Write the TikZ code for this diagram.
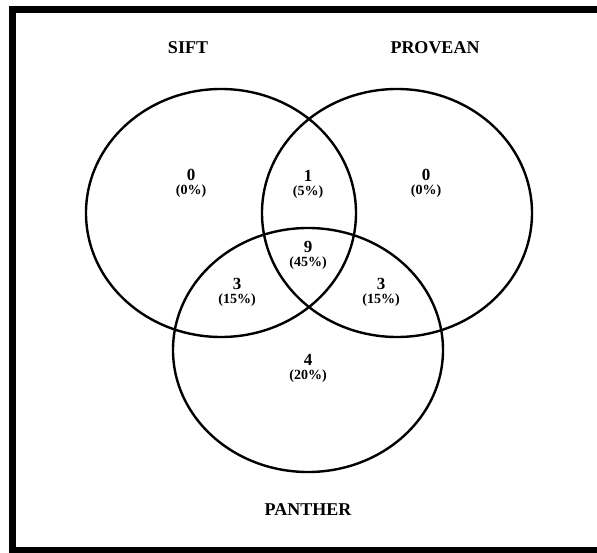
\documentclass[tikz,border=0pt]{standalone}
\usepackage{fontspec}
\setmainfont{Liberation Serif}
\usetikzlibrary{positioning,shapes.geometric}

\begin{document}
\begin{tikzpicture}[x=1pt,y=-1pt,
      set/.style={draw,ellipse,line width=2.4pt,minimum width=270pt,minimum height=248pt,inner sep=0pt},
      setname/.style={font=\fontsize{18}{18}\selectfont\bfseries,inner sep=0pt},
      num/.style={font=\fontsize{17}{17}\selectfont\bfseries,inner sep=0pt},
      pct/.style={font=\fontsize{14}{14}\selectfont\bfseries,inner sep=0pt,below=3.5pt of #1}]
    \useasboundingbox (0,0) rectangle (597,553);
    \draw[line width=7pt] (12.5,9.5) rectangle (604,550.5);
    % the three sets
    \node[set] (sift) at (221,213) {};
    \node[set] (provean) at (397,213) {};
    \node[set,minimum height=244pt] (panther) at (308,350) {};
    \node[setname] (siftlbl) at (188,48) {SIFT};
    \node[setname] (proveanlbl) at (435,48) {PROVEAN};
    \node[setname] (pantherlbl) at (308,510) {PANTHER};
    % region counts
    \node[num] (n1) at (191,175) {0};      \node[pct=n1] (p1) {(0\%)};
    \node[num] (n2) at (308,176) {1};      \node[pct=n2] (p2) {(5\%)};
    \node[num] (n3) at (426,175) {0};      \node[pct=n3] (p3) {(0\%)};
    \node[num] (n4) at (308,247) {9};      \node[pct=n4] (p4) {(45\%)};
    \node[num] (n5) at (237,284) {3};      \node[pct=n5] (p5) {(15\%)};
    \node[num] (n6) at (381,284) {3};      \node[pct=n6] (p6) {(15\%)};
    \node[num] (n7) at (308,360) {4};      \node[pct=n7] (p7) {(20\%)};
  \end{tikzpicture}
\end{document}
